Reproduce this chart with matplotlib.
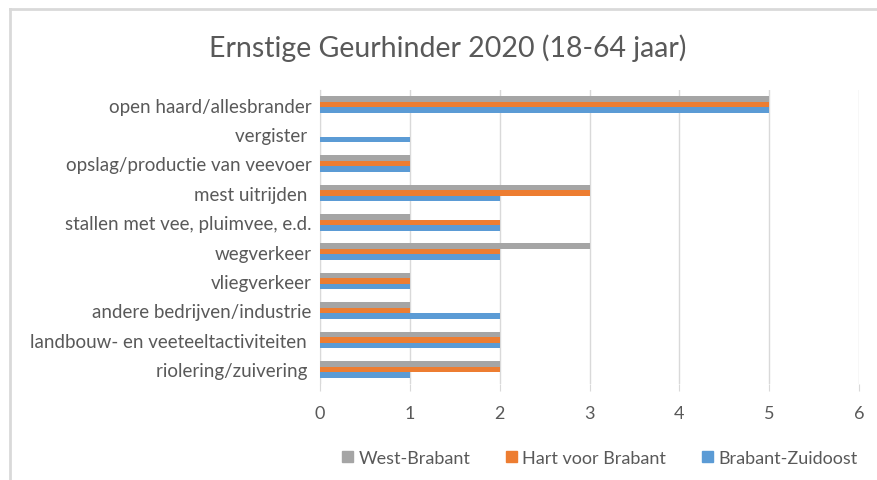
import matplotlib
matplotlib.use("Agg")
import matplotlib.pyplot as plt
import numpy as np
from matplotlib.lines import Line2D
from matplotlib.patches import Patch

categories = ["open haard/allesbrander", "vergister ", "opslag/productie van veevoer",
              "mest uitrijden ", "stallen met vee, pluimvee, e.d.", "wegverkeer",
              "vliegverkeer", "andere bedrijven/industrie", "landbouw- en veeteeltactiviteiten ",
              "riolering/zuivering "]
west_brabant = [5, 0, 1, 3, 1, 3, 1, 1, 2, 2]
hart_voor_brabant = [5, 0, 1, 3, 2, 2, 1, 1, 2, 2]
brabant_zuidoost = [5, 1, 1, 2, 2, 2, 1, 2, 2, 1]
series_names = ["West-Brabant", "Hart voor Brabant", "Brabant-Zuidoost"]
colors = ["#a5a5a5", "#ed7d31", "#5b9bd5"]
xticks = [0, 1, 2, 3, 4, 5, 6]

plt.rcParams['font.family'] = ['Lato', 'DejaVu Sans']
txt = "#595959"

fig = plt.figure(figsize=(8.78, 4.81), dpi=100)
ax = fig.add_axes([320/878, 1-385/481, (859-320)/878, (385-91)/481])

n = len(categories)
y = np.arange(n)[::-1].astype(float)
bh = 0.19
for i, (vals, c) in enumerate(zip([west_brabant, hart_voor_brabant, brabant_zuidoost], colors)):
    ax.barh(y + (1 - i) * bh, vals, height=bh, color=c, zorder=3)

ax.set_xlim(0, 6)
ax.set_ylim(-0.5, n - 0.5)
ax.set_xticks(xticks)
ax.set_xticklabels([str(t) for t in xticks], fontsize=13, color=txt)
ax.set_yticks(y)
ax.set_yticklabels(categories, fontsize=13.5, color=txt)
ax.tick_params(axis='y', length=0, pad=6)
ax.tick_params(axis='x', length=5, color="#d9d9d9", pad=10)
ax.grid(axis='x', color="#d9d9d9", linewidth=1, zorder=0)
for s in ["top", "right", "bottom"]:
    ax.spines[s].set_visible(False)
ax.spines["left"].set_color("#d9d9d9")

fig.text(448/878, 1 - 48/481, "Ernstige Geurhinder 2020 (18-64 jaar)", ha='center', va='center',
         fontsize=20.5, color=txt)

handles = [Patch(color=c) for c in colors]
fig.legend(handles, series_names, loc='center', bbox_to_anchor=(600/878, 1 - 459/481), ncol=3,
           frameon=False, fontsize=13, labelcolor=txt, handlelength=0.6, handleheight=0.6,
           columnspacing=2.0, handletextpad=0.3)

fig.add_artist(Line2D([10/878, 1], [1-10/481, 1-10/481], color="#d9d9d9", linewidth=2, transform=fig.transFigure))
fig.add_artist(Line2D([10/878, 10/878], [0, 1-10/481], color="#d9d9d9", linewidth=2, transform=fig.transFigure))

fig.savefig("out.png", dpi=100)
